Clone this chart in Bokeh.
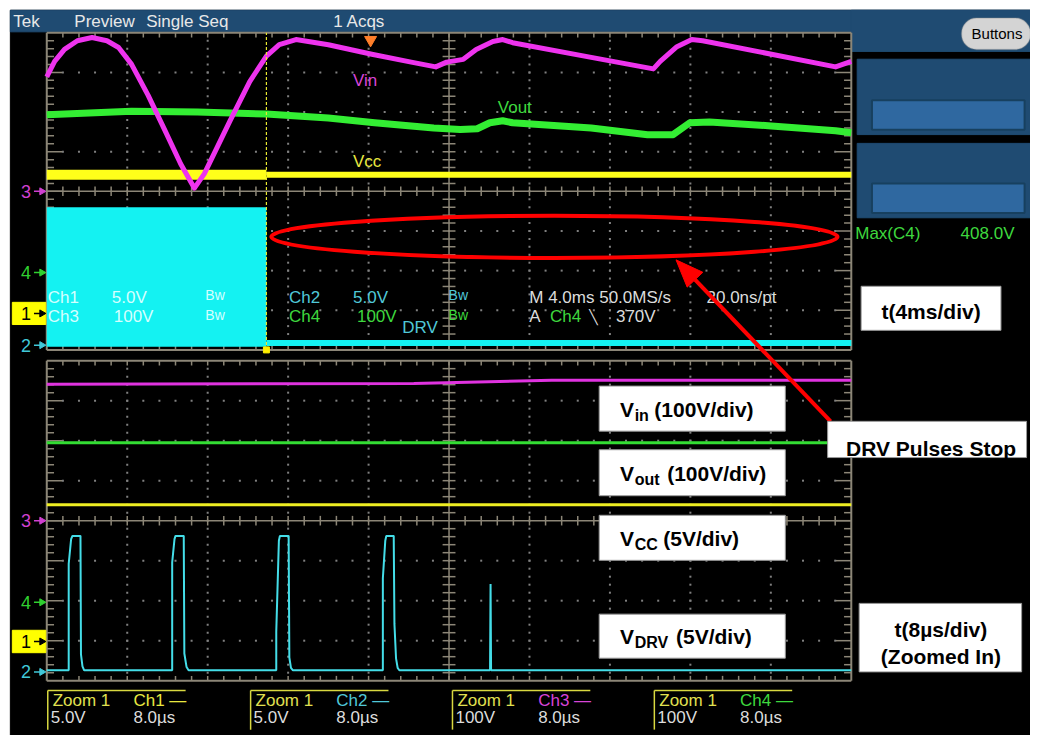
import numpy as np
from bokeh.plotting import figure
from bokeh.models import Range1d, BoxAnnotation, Label
from bokeh.core.properties import value
from bokeh.embed import file_html
from bokeh.resources import INLINE

# ---------------- data ----------------
# Main acquisition window (4 ms/div), time in ms, volts
vin_t = [0, 0.39, 0.88, 1.52, 2.25, 2.99, 3.57, 4.21, 5.04, 5.88, 6.66, 7.34, 7.83, 8.47, 9.11,
         10.09, 10.92, 11.56, 12.39, 14.00, 16.16, 18.12, 19.34, 19.88, 20.71, 21.35, 22.18,
         22.67, 23.16, 27.07, 30.16, 30.50, 31.33, 32.07, 32.61, 39.22, 40.0]
vin_v = [289, 328, 358, 380, 388, 380, 363, 321, 242, 153, 69, 8, 44, 111, 178,
         277, 341, 370, 383, 370, 346, 326, 314, 326, 333, 358, 378,
         383, 375, 338, 309, 328, 365, 383, 380, 314, 328]
vout_t = [0, 4.21, 7.49, 10.92, 14.00, 16.30, 19.24, 20.56, 21.40, 22.03, 22.67, 23.16,
          27.07, 29.87, 31.14, 31.97, 32.95, 36.03, 39.22, 40.0]
vout_v = [398, 407, 405, 400, 390, 378, 365, 361, 363, 378, 383, 378,
          365, 348, 348, 378, 380, 370, 358, 353]
vcc_t = [0.0, 10.92, 40.0]
vcc_v = [17.5, 17.5, 17.5]
drv_burst_t = [0.0, 10.92]
drv_burst_hi = [17.4, 17.4]
drv_burst_lo = [-0.2, -0.2]
drv_idle_t = [10.92, 40.0]
drv_idle_v = [0.26, 0.26]
stop_t_ms = 10.92
trig_t_ms = 16.1

# Zoom window (8 us/div), time in us, volts
zvin_t = [0, 36.5, 50.2, 80]
zvin_v = [341, 343, 351, 351]
zvout_t = [0, 80]
zvout_v = [399, 399]
zvcc_t = [0, 80]
zvcc_v = [17.1, 17.1]
zdrv_t = [0, 2.18, 2.18, 2.42, 2.55, 3.35, 3.40, 3.55, 3.72,
          12.47, 12.47, 12.70, 12.80, 13.62, 13.68, 13.90, 14.10,
          22.82, 22.82, 23.08, 23.18, 24.05, 24.12, 24.28, 24.48,
          33.42, 33.42, 33.66, 33.76, 34.50, 34.57, 34.73, 34.89, 35.06,
          44.08, 44.13, 44.18, 80.0]
zdrv_v = [0.2, 0.2, 13.5, 16.6, 17.0, 17.0, 2.2, 0.7, 0.2,
          0.2, 13.7, 16.6, 17.0, 17.0, 2.3, 0.6, 0.2,
          0.2, 5.0, 16.4, 17.0, 17.0, 1.8, 0.5, 0.2,
          0.2, 11.7, 16.4, 17.0, 17.0, 6.0, 1.7, 0.5, 0.2,
          0.2, 11.0, 0.2, 0.2]

# channel settings: volts/div and ground-marker offsets (div)
ch_scale = {"1": 5.0, "2": 5.0, "3": 100.0, "4": 100.0}
main_offset = {"1": -3.08, "2": -3.88, "3": 0.0, "4": -2.05}
zoom_offset = {"1": -3.02, "2": -3.78, "3": 0.0, "4": -2.04}
max_c4 = "408.0V"

# ---------------- layout (screen pixels of the capture) ----------------
W, H = 1030, 735
PX0, PY0 = 0, 0
PX1, PY1 = 1046, 751
GX0, GX1 = 47, 864
TOP_Y = (33, 357)
BOT_Y = (368, 695)

SCOPE = "Liberation Sans"
BOLD = "Liberation Sans"
BLUE = "#1f4b72"
INNER = "#2f68a0"
GR = "#8c8677"
DOT = "#808080"
MAG, GRN, YEL, CYN = "#ee33ee", "#33ee33", "#ffff1a", "#14f2f2"
ZMAG, ZGRN, ZYEL, ZCYN = "#e033e0", "#33dd33", "#eeee22", "#44dde8"
TMAG, TGRN, TYEL, TCYN = "#d844d8", "#3ed83e", "#e8e840", "#50c8d8"
LG = "#dcdcdc"
LIGHT = "#d4ffff"


def span(v0, v1, p0, p1, q0, q1):
    k = (v1 - v0) / (p1 - p0)
    return Range1d(start=v0 + (q0 - p0) * k, end=v0 + (q1 - p0) * k)


p = figure(width=W, height=H, x_range=Range1d(PX0, PX1), y_range=Range1d(PY1, PY0),
           output_backend="svg", toolbar_location=None, min_border=0,
           x_axis_location=None, y_axis_location=None,
           background_fill_color="white", border_fill_color="white")
p.grid.visible = False
p.outline_line_color = None
p.extra_x_ranges = {"tm": span(0, 40, GX0, GX1, PX0, PX1),
                    "tz": span(0, 80, GX0, GX1, PX0, PX1)}
p.extra_y_ranges = {"vt": span(-4, 4, TOP_Y[1], TOP_Y[0], PY1, PY0),
                    "vb": span(-4, 4, BOT_Y[1], BOT_Y[0], PY1, PY0)}


def txt(x, y, s, color, size=17, font=SCOPE, align="left", baseline="middle", style="normal", **kw):
    p.text(x=[x], y=[y], text=[s], text_color=color, text_font=value(font),
           text_font_size=f"{size}px", text_align=align, text_baseline=baseline,
           text_font_style=style, **kw)


# ---------------- screen background ----------------
p.quad(left=[10], right=[PX1], top=[10], bottom=[PY1], color="black")
p.quad(left=[10], right=[PX1], top=[10], bottom=[32], color=BLUE)
p.quad(left=[864], right=[PX1], top=[10], bottom=[52], color=BLUE)
for t0, b0, ti, bi in [(60, 137, 102, 132), (146, 222, 187, 217)]:
    p.quad(left=[870], right=[PX1], top=[t0], bottom=[b0], color=BLUE)
    p.quad(left=[885], right=[1040], top=[ti], bottom=[bi], fill_color=INNER,
           line_color="#17405f", line_width=2)


# ---------------- graticules ----------------
def graticule(xr, yr, dx):
    kw = dict(x_range_name=xr, y_range_name=yr)
    um = np.arange(1, 50) * 0.2
    vm = np.arange(-19, 20) * 0.2
    rows = [-3, -2, -1, 1, 2, 3]
    cols = [1, 2, 3, 4, 6, 7, 8, 9]
    xs = np.concatenate([np.tile(um, len(rows)), np.repeat(cols, len(vm))]) * dx
    ys = np.concatenate([np.repeat(rows, len(um)), np.tile(vm, len(cols))])
    p.scatter(xs, ys, marker="square", size=2, color=DOT, line_color=None, **kw)
    # center cross
    p.segment(x0=[5 * dx, 0], y0=[-4, 0], x1=[5 * dx, 10 * dx], y1=[4, 0],
              line_color=GR, line_width=1.5, **kw)
    vt = vm[np.abs(vm) > 1e-9]
    ut = um[np.abs(um - 5) > 1e-9]
    # ticks on center cross
    p.segment(x0=np.full(len(vt), 4.92 * dx), y0=vt, x1=np.full(len(vt), 5.08 * dx), y1=vt,
              line_color=GR, line_width=1.5, **kw)
    p.segment(x0=ut * dx, y0=np.full(len(ut), -0.12), x1=ut * dx, y1=np.full(len(ut), 0.12),
              line_color=GR, line_width=1.5, **kw)
    # border ticks
    major = np.abs(vm - np.round(vm)) < 1e-9
    ln = np.where(major, 0.19, 0.09)
    p.segment(x0=np.zeros(len(vm)), y0=vm, x1=ln * dx, y1=vm, line_color=GR, line_width=1.5, **kw)
    p.segment(x0=np.full(len(vm), 10 * dx), y0=vm, x1=(10 - ln) * dx, y1=vm,
              line_color=GR, line_width=1.5, **kw)
    p.segment(x0=um * dx, y0=np.full(len(um), 4), x1=um * dx, y1=np.full(len(um), 3.88),
              line_color=GR, line_width=1.5, **kw)
    p.segment(x0=um * dx, y0=np.full(len(um), -4), x1=um * dx, y1=np.full(len(um), -3.88),
              line_color=GR, line_width=1.5, **kw)
    # border
    p.segment(x0=[0, 0, 0, 10 * dx], y0=[-4, 4, -4, -4], x1=[10 * dx, 10 * dx, 0, 10 * dx],
              y1=[-4, 4, 4, 4], line_color=GR, line_width=2, **kw)


graticule("tm", "vt", 4.0)
graticule("tz", "vb", 8.0)


def to_div(v, ch, off):
    return np.asarray(v, dtype=float) / ch_scale[ch] + off[ch]


# ---------------- main window traces ----------------
mk = dict(x_range_name="tm", y_range_name="vt")
p.varea(x=drv_burst_t, y1=to_div(drv_burst_lo, "2", main_offset),
        y2=to_div(drv_burst_hi, "2", main_offset), fill_color=CYN, **mk)
p.line(drv_idle_t, to_div(drv_idle_v, "2", main_offset), line_color=CYN, line_width=6, **mk)
p.line(vcc_t[:2], to_div(vcc_v[:2], "1", main_offset), line_color=YEL, line_width=10, **mk)
p.line(vcc_t[1:], to_div(vcc_v[1:], "1", main_offset), line_color=YEL, line_width=6, **mk)
p.line(vout_t, to_div(vout_v, "4", main_offset), line_color=GRN, line_width=7, line_join="round", **mk)
p.line(vin_t, to_div(vin_v, "3", main_offset), line_color=MAG, line_width=5, line_join="round", **mk)
# stop cursor and trigger marker
p.segment(x0=[stop_t_ms], y0=[-4], x1=[stop_t_ms], y1=[4], line_color="#e8e830",
          line_width=1.2, line_dash="3 2", **mk)
p.scatter([stop_t_ms], [-4], marker="square", size=6, color="#ffee00", **mk)
p.scatter([trig_t_ms], [3.82], marker="inverted_triangle", size=12, color="#ff7f2a", **mk)

# ---------------- zoom window traces ----------------
zk = dict(x_range_name="tz", y_range_name="vb")
p.line(zvin_t, to_div(zvin_v, "3", zoom_offset), line_color=ZMAG, line_width=3, **zk)
p.line(zvout_t, to_div(zvout_v, "4", zoom_offset), line_color=ZGRN, line_width=3, **zk)
p.line(zvcc_t, to_div(zvcc_v, "1", zoom_offset), line_color=ZYEL, line_width=3, **zk)
p.line(zdrv_t, to_div(zdrv_v, "2", zoom_offset), line_color=ZCYN, line_width=2, **zk)


# ---------------- ground markers ----------------
def markers(yr, off):
    for ch, col in [("3", "#d040d0"), ("4", "#30d030"), ("1", "black"), ("2", "#40c8d8")]:
        y = off[ch]
        if ch == "1":
            p.quad(left=[12], right=[46], top=[y + 0.28], bottom=[y - 0.28], color="#ffff00",
                   y_range_name=yr)
        p.text(x=[31], y=[y], text=[ch], text_color=col, text_font=value(SCOPE),
               text_font_size="18px", text_align="right", text_baseline="middle", y_range_name=yr)
        p.segment(x0=[34], y0=[y], x1=[41], y1=[y], line_color=col, line_width=1.5, y_range_name=yr)
        p.scatter(x=[42], y=[y], marker="triangle", angle=-np.pi / 2, size=7, color=col,
                  y_range_name=yr)


markers("vt", main_offset)
markers("vb", zoom_offset)

# ---------------- scope texts ----------------
txt(13, 21, "Tek", "#e8e8e8")
txt(75, 21, "Preview", "#e8e8e8")
txt(148, 21, "Single Seq", "#e8e8e8")
txt(338, 21, "1 Acqs", "#e8e8e8")

txt(358, 82, "Vin", TMAG)
txt(505, 109, "Vout", TGRN)
txt(358, 164, "Vcc", TYEL)

txt(48, 303, "Ch1", LIGHT); txt(113, 303, "5.0V", LIGHT); txt(208, 301, "Bw", LIGHT, size=14)
txt(48, 323, "Ch3", LIGHT); txt(115, 323, "100V", LIGHT); txt(208, 321, "Bw", LIGHT, size=14)
txt(293, 303, "Ch2", TCYN); txt(358, 303, "5.0V", TCYN); txt(455, 301, "Bw", TCYN, size=14)
txt(293, 323, "Ch4", TGRN); txt(362, 323, "100V", TGRN); txt(455, 321, "Bw", TGRN, size=14)
txt(408, 334, "DRV", TCYN)
txt(537, 303, "M 4.0ms 50.0MS/s", LG); txt(717, 303, "20.0ns/pt", LG)
txt(537, 323, "A", LG); txt(558, 323, "Ch4", TGRN); txt(598, 323, "\u2572", LG, size=14, font="DejaVu Sans")
txt(625, 323, "370V", LG)

txt(868, 238, "Max(C4)", TGRN)
txt(975, 238, max_c4, TGRN)

for gx, ch, col, vd in [(48, "Ch1", TYEL, "5.0V"), (254, "Ch2", TCYN, "5.0V"),
                        (459, "Ch3", TMAG, "100V"), (664, "Ch4", TGRN, "100V")]:
    p.segment(x0=[gx, gx], y0=[705, 705], x1=[gx + 140, gx], y1=[705, 745],
              line_color="#d8d840", line_width=1.5)
    txt(gx + 5, 715, "Zoom 1", "#e0e050")
    txt(gx + 87, 715, ch + " \u2014", col)
    txt(gx + 3, 733, vd, LG)
    txt(gx + 87, 733, "8.0\u00b5s", LG)

# Buttons
p.add_layout(BoxAnnotation(left=976, right=1046, top=18, bottom=50, fill_color="#d4d4d4",
                           fill_alpha=1, line_color="#8a8a8a", line_width=1.5, border_radius=15))
p.add_layout(Label(x=1012, y=34, text="Buttons", text_align="center", text_baseline="middle",
                   text_font=SCOPE, text_font_size="15px", text_color="black"))

# ---------------- red annotations ----------------
p.ellipse(x=[562.5], y=[241.5], width=[575], height=[43], fill_color=None,
          line_color="#ff0000", line_width=4)
tail = np.array([843.0, 430.0])
tip = np.array([686.0, 265.0])
d = (tip - tail) / np.linalg.norm(tip - tail)
perp = np.array([-d[1], d[0]])
base = tip - d * 28
p.segment(x0=[tail[0]], y0=[tail[1]], x1=[base[0]], y1=[base[1]], line_color="#ff0000", line_width=4)
head = np.array([tip, base + perp * 11, base - perp * 11])
p.patch(head[:, 0], head[:, 1], color="#ff0000")

# ---------------- white caption boxes ----------------
boxes = [(608, 797, 394, 440), (608, 797, 459, 506), (608, 797, 526, 572), (608, 797, 627, 672),
         (874, 1016, 292, 337), (840, 1042, 430, 467), (872, 1037, 616, 686)]
p.quad(left=[b[0] for b in boxes], right=[b[1] for b in boxes], top=[b[2] for b in boxes],
       bottom=[b[3] for b in boxes], fill_color="white", line_color="#9a9a9a", line_width=1)

for base_y, sub, rest, rest_x in [(418, "in", "(100V/div)", 664), (483, "out", "(100V/div)", 677),
                                  (550, "CC", "(5V/div)", 673), (650, "DRV", "(5V/div)", 686)]:
    txt(629, base_y, "V", "black", size=21, font=BOLD, baseline="alphabetic", style="bold")
    txt(644, base_y + 6, sub, "black", size=16, font=BOLD, baseline="alphabetic", style="bold")
    txt(rest_x, base_y, rest, "black", size=21, font=BOLD, baseline="alphabetic", style="bold")

txt(945, 318, "t(4ms/div)", "black", size=21, font=BOLD, align="center", baseline="alphabetic", style="bold")
txt(945, 458, "DRV Pulses Stop", "black", size=21, font=BOLD, align="center", baseline="alphabetic", style="bold")
txt(955, 643, "t(8\u00b5s/div)", "black", size=21, font=BOLD, align="center", baseline="alphabetic", style="bold")
txt(955, 670, "(Zoomed In)", "black", size=21, font=BOLD, align="center", baseline="alphabetic", style="bold")

open("out.html", "w").write(file_html(p, INLINE))
